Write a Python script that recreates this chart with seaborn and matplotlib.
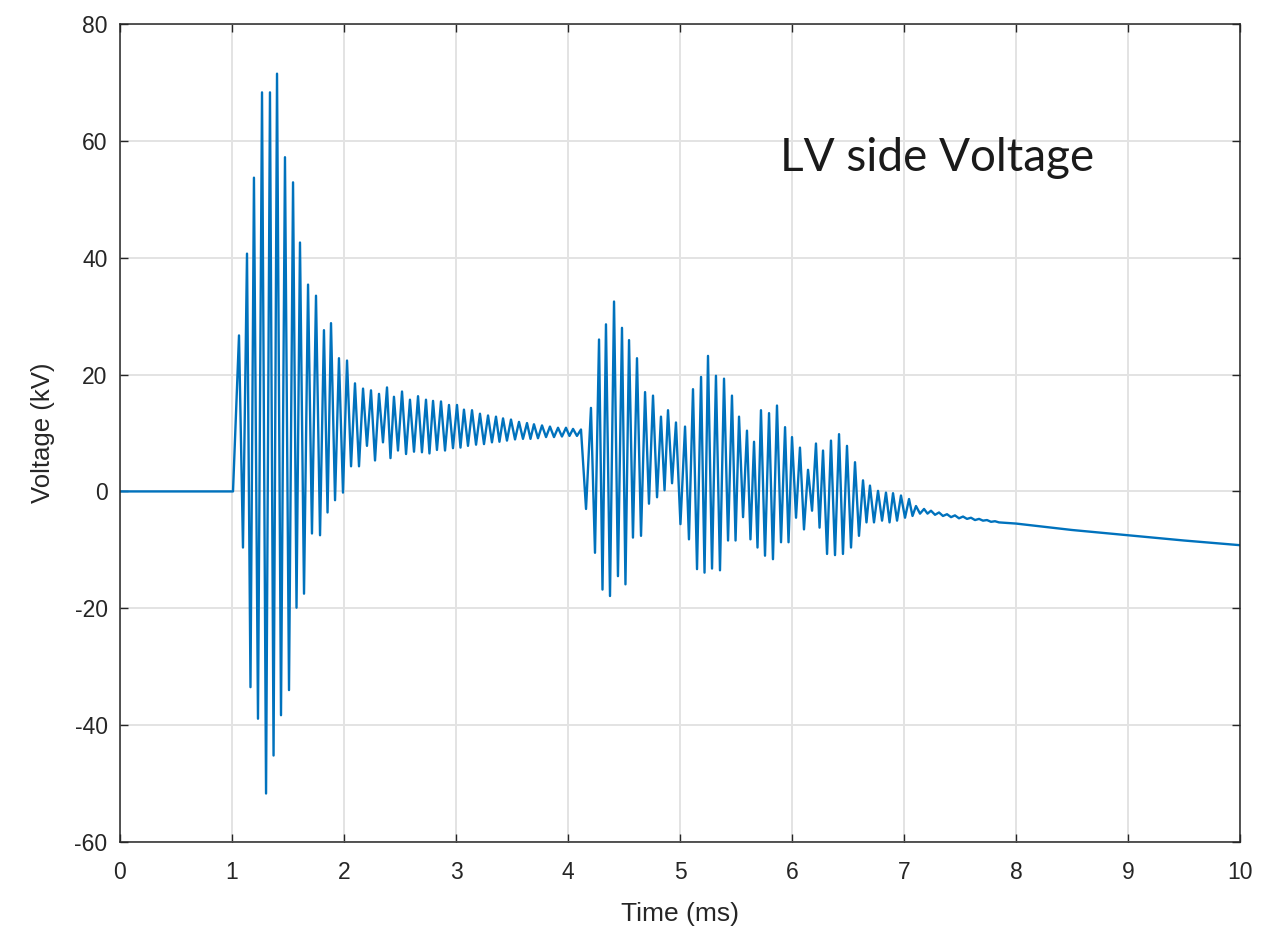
import numpy as np
import pandas as pd
import matplotlib
matplotlib.use("Agg")
import matplotlib.pyplot as plt
import seaborn as sns

# ---------------- data ----------------
prefault_t = [0.0, 1.009]
prefault_v = [0.0, 0.0]

# first (energisation) burst and ringing plateau: alternating extrema
burst1_t = [1.0625, 1.098, 1.134, 1.165, 1.196, 1.232, 1.268, 1.304, 1.339, 1.371,
            1.402, 1.4375, 1.473, 1.509, 1.545, 1.576, 1.607, 1.643, 1.679, 1.714,
            1.75, 1.786, 1.821, 1.853, 1.884, 1.920, 1.955, 1.991, 2.027, 2.063,
            2.098, 2.134, 2.170, 2.205, 2.241, 2.277, 2.3125, 2.348, 2.384, 2.415,
            2.446, 2.482, 2.518, 2.554, 2.589, 2.625, 2.661, 2.696, 2.732, 2.763,
            2.795, 2.830, 2.866, 2.902, 2.9375, 2.973, 3.009, 3.040, 3.071, 3.107,
            3.143, 3.179, 3.214, 3.25, 3.286, 3.321, 3.357, 3.388, 3.420, 3.455,
            3.491, 3.527, 3.5625, 3.598, 3.634, 3.665, 3.696, 3.732, 3.768, 3.804,
            3.839, 3.875, 3.911, 3.946, 3.982, 4.013, 4.045, 4.080, 4.116]
burst1_v = [26.7, -9.6, 40.7, -33.5, 53.7, -38.9, 68.3, -51.7, 68.3, -45.2,
            71.5, -38.3, 57.2, -34.0, 52.9, -19.9, 42.6, -17.5, 35.4, -7.2,
            33.5, -7.5, 27.6, -3.6, 28.8, -1.5, 22.8, -0.2, 22.4, 4.3,
            18.5, 4.3, 17.6, 7.8, 17.3, 5.3, 16.7, 8.4, 17.8, 5.7,
            16.2, 7.0, 17.1, 6.4, 15.7, 6.8, 16.3, 6.7, 15.7, 6.5,
            15.5, 7.1, 15.4, 7.0, 14.8, 7.4, 14.8, 7.5, 14.0, 7.8,
            13.9, 8.0, 13.3, 8.1, 13.0, 8.4, 12.8, 8.5, 12.5, 8.7,
            12.3, 8.9, 11.9, 9.0, 11.7, 9.0, 11.5, 9.1, 11.3, 9.3,
            11.1, 9.3, 10.9, 9.4, 10.9, 9.5, 10.7, 9.5, 10.6]

# second burst
burst2_t = [4.161, 4.205, 4.241, 4.277, 4.308, 4.339, 4.375, 4.411, 4.446, 4.482,
            4.513, 4.545, 4.580, 4.616, 4.652, 4.688, 4.723, 4.759, 4.795, 4.830,
            4.862, 4.893, 4.929, 4.964, 5.004, 5.045, 5.080, 5.116, 5.152, 5.188,
            5.219, 5.25, 5.286, 5.321, 5.357, 5.393, 5.429, 5.464, 5.496, 5.527,
            5.563, 5.598, 5.629, 5.661, 5.692, 5.723, 5.759, 5.795, 5.830, 5.866,
            5.902, 5.938, 5.969, 6.0, 6.036, 6.071, 6.107, 6.143, 6.179, 6.214,
            6.246, 6.277, 6.313, 6.348, 6.384, 6.420, 6.455, 6.491, 6.527, 6.5625,
            6.598, 6.634, 6.665, 6.696, 6.732, 6.768, 6.804, 6.839, 6.871, 6.902,
            6.938, 6.973, 7.009, 7.045, 7.076, 7.107, 7.143, 7.179, 7.210]
burst2_v = [-3.0, 14.3, -10.5, 26.0, -16.8, 28.6, -17.9, 32.5, -14.5, 28.0,
            -15.9, 25.9, -7.9, 22.8, -7.6, 17.0, -2.1, 16.4, -1.0, 12.8,
            0.2, 13.9, 1.4, 11.8, -5.6, 11.1, -8.2, 17.5, -13.3, 19.6,
            -13.9, 23.2, -13.2, 19.8, -13.5, 19.3, -8.4, 16.4, -8.4, 12.8,
            -4.4, 10.4, -8.2, 8.5, -9.6, 13.9, -11.0, 13.4, -11.6, 14.7,
            -8.7, 11.0, -8.7, 9.3, -4.5, 7.5, -6.5, 3.7, -3.3, 8.2,
            -6.2, 7.0, -10.7, 8.7, -10.9, 9.8, -10.7, 7.8, -9.6, 5.0,
            -7.6, 1.9, -5.3, 1.0, -5.3, 0.1, -5.0, -0.2, -5.3, -0.3,
            -5.0, -0.7, -4.5, -1.3, -4.2, -2.5, -3.8, -3.0, -3.8]

# small residual ripple
ripple_t = [7.241, 7.277, 7.3125, 7.348, 7.384, 7.420, 7.455, 7.491, 7.527,
            7.5625, 7.598, 7.634, 7.670, 7.705, 7.741, 7.777, 7.8125, 7.848]
ripple_v = [-3.3, -4.0, -3.6, -4.2, -3.9, -4.4, -4.1, -4.6, -4.3,
            -4.7, -4.5, -4.9, -4.7, -5.0, -4.9, -5.2, -5.1, -5.3]

# slow decay
tail_t = [8.0, 8.5, 9.0, 9.5, 10.0]
tail_v = [-5.5, -6.6, -7.5, -8.4, -9.2]

x_ticks = [0, 1, 2, 3, 4, 5, 6, 7, 8, 9, 10]
y_ticks = [-60, -40, -20, 0, 20, 40, 60, 80]
x_label = "Time (ms)"
y_label = "Voltage (kV)"
note_text = "LV side Voltage"

# ---------------- figure ----------------
sns.set_theme(style="whitegrid")
plt.rcParams["font.family"] = ["Liberation Sans", "DejaVu Sans"]
plt.rcParams["axes.unicode_minus"] = False

df = pd.DataFrame({
    "t": prefault_t + burst1_t + burst2_t + ripple_t + tail_t,
    "v": prefault_v + burst1_v + burst2_v + ripple_v + tail_v,
})

fig = plt.figure(figsize=(12.62, 9.32), dpi=100)
ax = fig.add_axes([120 / 1262, 1 - 842 / 932, 1120 / 1262, 818 / 932])

sns.lineplot(data=df, x="t", y="v", ax=ax, sort=False, estimator=None,
             color="#0072BD", linewidth=1.7)

ax.set_xlim(0, 10)
ax.set_ylim(-60, 80)
ax.set_xticks(x_ticks)
ax.set_yticks(y_ticks)
ax.grid(True, color="#e3e3e3", linewidth=1.4)
ax.set_axisbelow(True)
for s in ax.spines.values():
    s.set_visible(True)
    s.set_color("#262626")
    s.set_linewidth(1.1)
ax.tick_params(direction="in", length=6, width=1.0, colors="#262626",
               labelsize=16.5, top=True, right=True, bottom=True, left=True,
               labeltop=False, labelright=False)
ax.tick_params(axis="x", pad=14)
ax.tick_params(axis="y", pad=9)
ax.set_xlabel(x_label, fontsize=19, color="#262626", labelpad=13)
ax.set_ylabel(y_label, fontsize=18.5, color="#262626", labelpad=14)

ax.text(0.589, 0.836, note_text, transform=ax.transAxes, fontsize=33,
        family=["Lato", "DejaVu Sans"], color="#1a1a1a", va="center", ha="left")

fig.savefig("out.png", dpi=100)
